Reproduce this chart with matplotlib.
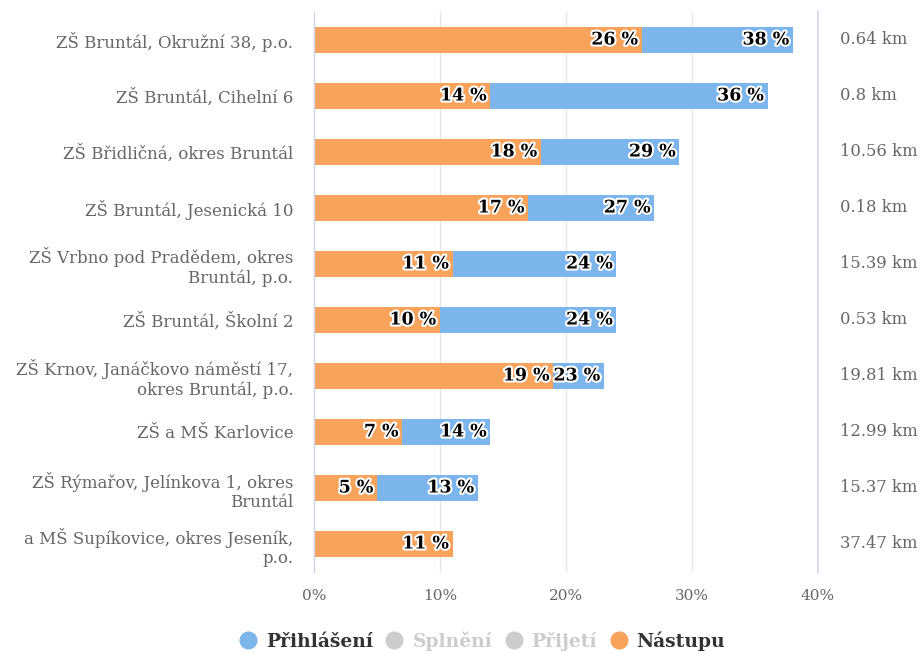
import matplotlib
matplotlib.use("Agg")
import matplotlib.pyplot as plt
import matplotlib.patheffects as pe
from matplotlib.lines import Line2D

schools = [
    "ZŠ Bruntál, Okružní 38, p.o.",
    "ZŠ Bruntál, Cihelní 6",
    "ZŠ Břidličná, okres Bruntál",
    "ZŠ Bruntál, Jesenická 10",
    "ZŠ Vrbno pod Pradědem, okres\nBruntál, p.o.",
    "ZŠ Bruntál, Školní 2",
    "ZŠ Krnov, Janáčkovo náměstí 17,\nokres Bruntál, p.o.",
    "ZŠ a MŠ Karlovice",
    "ZŠ Rýmařov, Jelínkova 1, okres\nBruntál",
    "a MŠ Supíkovice, okres Jeseník,\np.o.",
]
prihlaseni = [38, 36, 29, 27, 24, 24, 23, 14, 13, 11]
nastupu = [26, 14, 18, 17, 11, 10, 19, 7, 5, 11]
distances = ["0.64 km", "0.8 km", "10.56 km", "0.18 km", "15.39 km",
             "0.53 km", "19.81 km", "12.99 km", "15.37 km", "37.47 km"]
xticks = [0, 10, 20, 30, 40]
xticklabels = ["0%", "10%", "20%", "30%", "40%"]
legend_names = ["Přihlášení", "Splnění", "Přijetí", "Nástupu"]

BLUE = "#7cb5ec"
ORANGE = "#f7a35c"
plt.rcParams["font.family"] = ["DejaVu Serif"]

fig = plt.figure(figsize=(9.23, 6.54), dpi=100)
W, H = 923, 654
ax = fig.add_axes([314 / W, 1 - 572 / H, (818 - 314) / W, (572 - 12) / H])

n = len(schools)
ys = list(range(n))
bh = 0.48
ax.barh(ys, prihlaseni, height=bh, color=BLUE, zorder=2)
ax.barh(ys, nastupu, height=bh, color=ORANGE, zorder=3)

fx = [pe.withStroke(linewidth=3, foreground="white")]
for y, p, nv in zip(ys, prihlaseni, nastupu):
    if p != nv:
        ax.text(p - 0.3, y, f"{p} %", ha="right", va="center", fontsize=12.5,
                fontweight="bold", color="black", path_effects=fx, zorder=5)
    ax.text(nv - 0.3, y, f"{nv} %", ha="right", va="center", fontsize=12.5,
            fontweight="bold", color="black", path_effects=fx, zorder=5)

ax.set_xlim(0, 40)
ax.set_ylim(n - 0.5, -0.5)
ax.set_xticks(xticks)
ax.set_xticklabels(xticklabels, color="#666666", fontsize=11)
ax.set_yticks(ys)
ax.set_yticklabels(schools, color="#666666", fontsize=12)
ax.tick_params(axis="y", length=0, pad=15)
ax.tick_params(axis="x", length=0, pad=12)
for s in ax.spines.values():
    s.set_visible(False)
for t in xticks[1:-1]:
    ax.axvline(t, color="#e6e6e6", lw=1, zorder=1)
ax.axvline(0, color="#ccd6eb", lw=1, zorder=4, clip_on=False)
ax.axvline(40, color="#ccd6eb", lw=1.2, zorder=1, clip_on=False)

for y, d in zip(ys, distances):
    ax.text(1.0 + 22 / 504, y, d, transform=ax.get_yaxis_transform(),
            ha="left", va="center", color="#666666", fontsize=11.8)

# legend
handles = [
    Line2D([], [], marker="o", ls="", color=BLUE, markersize=12),
    Line2D([], [], marker="o", ls="", color="#cccccc", markersize=12),
    Line2D([], [], marker="o", ls="", color="#cccccc", markersize=12),
    Line2D([], [], marker="o", ls="", color=ORANGE, markersize=12),
]
leg = fig.legend(handles, legend_names, loc="center", bbox_to_anchor=(481 / W, 1 - 641 / H),
                 ncol=4, frameon=False, handletextpad=0.35, columnspacing=0.55,
                 handlelength=1.2, prop={"weight": "bold", "size": 13.5})
for txt, c in zip(leg.get_texts(), ["#333333", "#cccccc", "#cccccc", "#333333"]):
    txt.set_color(c)

fig.savefig("out.png", dpi=100)
